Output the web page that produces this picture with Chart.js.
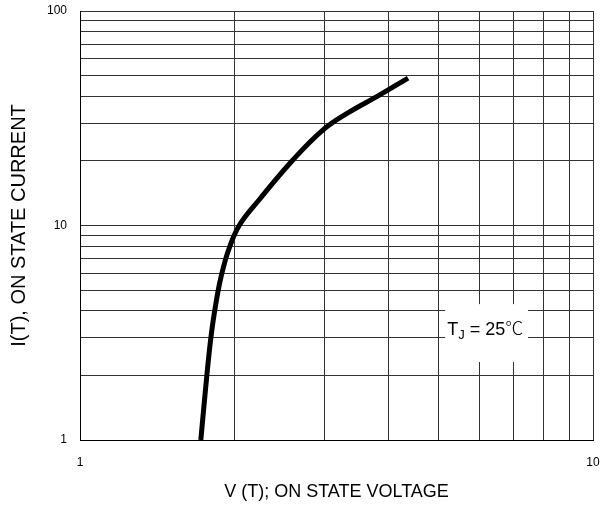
<!DOCTYPE html>
<html>
<head>
<meta charset="utf-8">
<script src="https://cdn.jsdelivr.net/npm/chart.js@4.4.1/dist/chart.umd.min.js"></script>
<style>
    html, body { margin: 0; padding: 0; background: #fff; }
    #wrap { width: 606px; height: 506px; }
</style>
</head>
<body>
<div id="wrap"><canvas id="ivChart" width="606" height="506"></canvas></div>
<script>
// Values
const voltage = [1.72, 1.766, 1.804, 1.845, 1.883, 1.948, 2.046, 2.233, 2.60, 2.977, 3.315, 3.81, 4.36];
const current = [1.0, 1.97, 3.15, 4.49, 5.75, 7.69, 10.05, 13.15, 20.2, 27.9, 33.3, 40.2, 48.7];

// Grid ticks and which of them carry a label
const xTicks = [1, 2, 3, 4, 5, 6, 7, 8, 9, 10];
const yTicks = [1, 2, 3, 4, 5, 6, 7, 8, 9, 10, 20, 30, 40, 50, 60, 70, 80, 90, 100];
const xLabels = [1, 10];
const yLabels = [1, 10, 100];

const FONT = "'Liberation Sans', Arial, sans-serif";

// White box with the junction temperature note
const tempNote = {
    id: 'tempNote',
    afterDraw(chart) {
        const {ctx, scales: {x, y}} = chart;
        const left = x.getPixelForValue(5.15), right = x.getPixelForValue(7.47);
        const top = y.getPixelForValue(4.3), bottom = y.getPixelForValue(2.31);
        ctx.save();
        ctx.fillStyle = '#fff';
        ctx.fillRect(left, top, right - left, bottom - top);
        ctx.fillStyle = '#000';
        ctx.textBaseline = 'alphabetic';
        let tx = x.getPixelForValue(5.2);
        const ty = y.getPixelForValue(3.08);
        ctx.font = '18px ' + FONT;
        ctx.fillText('T', tx, ty);
        tx += ctx.measureText('T').width;
        ctx.font = '13px ' + FONT;
        ctx.fillText('J', tx, ty + 4);
        tx += ctx.measureText('J').width;
        ctx.font = '18px ' + FONT;
        ctx.fillText(' = 25', tx, ty);
        tx += ctx.measureText(' = 25').width;
        ctx.font = "300 18px 'Noto Sans CJK SC', sans-serif";
        ctx.fillText('℃', tx, ty);
        ctx.restore();
    }
};

const ctx = document.getElementById('ivChart').getContext('2d');
new Chart(ctx, {
    type: 'line',
    data: {
        datasets: [{
            data: voltage.map((v, i) => ({x: v, y: current[i]})),
            borderColor: '#000',
            borderWidth: 5,
            pointRadius: 0,
            tension: 0.4,
            fill: false
        }]
    },
    options: {
        responsive: false,
        animation: false,
        layout: { padding: { left: 0, right: 13, top: 11, bottom: 0 } },
        plugins: { legend: { display: false }, tooltip: { enabled: false } },
        scales: {
            x: {
                type: 'logarithmic',
                min: 1,
                max: 10,
                afterBuildTicks: s => { s.ticks = xTicks.map(v => ({value: v})); },
                afterFit: s => { s.height = 66; s.paddingLeft = 0; s.paddingRight = 0; },
                border: { color: '#000', width: 1 },
                grid: { color: '#333', lineWidth: 1, drawTicks: false },
                ticks: {
                    autoSkip: false,
                    maxRotation: 0,
                    padding: 15,
                    color: '#000',
                    font: { family: FONT, size: 12 },
                    callback: v => xLabels.includes(v) ? String(v) : ''
                },
                title: {
                    display: true,
                    text: 'V (T); ON STATE VOLTAGE',
                    color: '#000',
                    font: { family: FONT, size: 18 },
                    padding: { top: 4, bottom: 3 }
                }
            },
            y: {
                type: 'logarithmic',
                min: 1,
                max: 100,
                afterBuildTicks: s => { s.ticks = yTicks.map(v => ({value: v})); },
                afterFit: s => { s.width = 80; s.paddingTop = 0; s.paddingBottom = 0; },
                border: { color: '#000', width: 1 },
                grid: { color: '#333', lineWidth: 1, drawTicks: false },
                ticks: {
                    autoSkip: false,
                    padding: 13,
                    color: '#000',
                    font: { family: FONT, size: 12 },
                    callback: v => yLabels.includes(v) ? String(v) : ''
                },
                title: {
                    display: true,
                    text: 'I(T), ON STATE CURRENT',
                    color: '#000',
                    font: { family: FONT, size: 20 },
                    padding: { top: 7, bottom: 4 }
                }
            }
        }
    },
    plugins: [tempNote]
});
</script>
</body>
</html>
